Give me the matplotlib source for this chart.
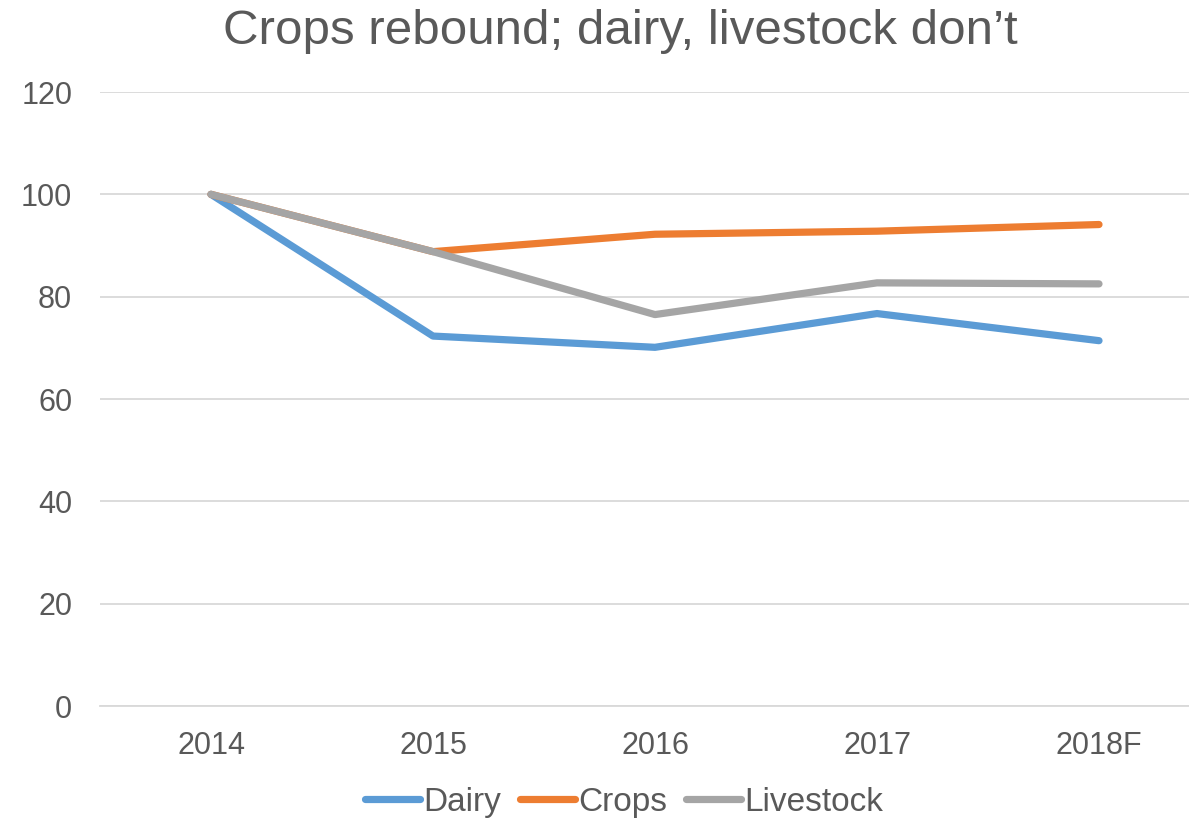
import matplotlib
matplotlib.use("Agg")
import matplotlib.pyplot as plt

plt.rcParams['font.family'] = ['Liberation Sans', 'DejaVu Sans']

years = ["2014", "2015", "2016", "2017", "2018F"]
dairy = [100, 72.3, 70.1, 76.7, 71.4]
crops = [100, 88.8, 92.2, 92.8, 94.1]
livestock = [100, 88.8, 76.5, 82.7, 82.5]

text_color = "#595959"

fig = plt.figure(figsize=(11.89, 8.22), dpi=100)
ax = fig.add_axes([100/1189, 116/822, 1110/1189, 614/822])

x = list(range(len(years)))
ax.plot(x, dairy, color="#5B9BD5", lw=5.2, solid_capstyle="round", solid_joinstyle="round", label="Dairy")
ax.plot(x, crops, color="#ED7D31", lw=5.2, solid_capstyle="round", solid_joinstyle="round", label="Crops")
ax.plot(x, livestock, color="#A5A5A5", lw=5.2, solid_capstyle="round", solid_joinstyle="round", label="Livestock")

ax.set_xlim(-0.5, 4.5)
ax.set_ylim(0, 120)
ax.set_yticks(range(0, 121, 20))
ax.set_xticks(x)
ax.set_xticklabels(years)
ax.grid(axis="y", color="#D9D9D9", lw=1.3)
ax.set_axisbelow(True)
for s in ["top", "right", "left"]:
    ax.spines[s].set_visible(False)
ax.spines["bottom"].set_color("#D9D9D9")
ax.spines["bottom"].set_linewidth(1.3)
ax.tick_params(axis="both", length=0, labelsize=22, colors=text_color)
ax.tick_params(axis="y", pad=20)
ax.tick_params(axis="x", pad=18)

fig.text(620/1189, 1 - 32/822, "Crops rebound; dairy, livestock don\u2019t",
         ha="center", va="center", fontsize=35.5, color=text_color)

leg = fig.legend(loc="center", bbox_to_anchor=(624/1189, 1 - 802/822), ncol=3,
                 frameon=False, fontsize=24, handlelength=1.65, handletextpad=0.1,
                 columnspacing=0.55)
for t in leg.get_texts():
    t.set_color(text_color)
for l in leg.get_lines():
    l.set_linewidth(5.2)

fig.savefig("out.png", dpi=100)
